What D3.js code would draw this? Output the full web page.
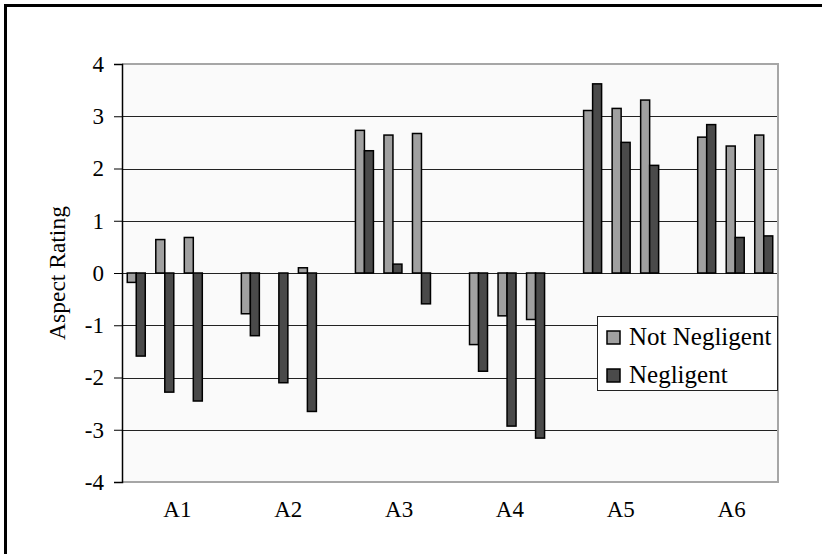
<!DOCTYPE html>
<html>
<head>
<meta charset="utf-8">
<script src="https://cdn.jsdelivr.net/npm/d3@7"></script>
<style>
  html, body { margin: 0; padding: 0; background: #ffffff; }
  svg { display: block; }
  text { font-family: "Liberation Serif", "Times New Roman", serif; fill: #000; }
</style>
</head>
<body>
<svg id="chart" width="822" height="554"></svg>
<script>
// Aspect ratings: three aspects per condition group, two series each
const categories = ["A1", "A2", "A3", "A4", "A5", "A6"];
const seriesNames = ["Not Negligent", "Negligent"];
const notNegligent = [
  [-0.18, 0.64, 0.68],
  [-0.78, 0.00, 0.10],
  [2.73, 2.64, 2.67],
  [-1.37, -0.82, -0.89],
  [3.11, 3.15, 3.31],
  [2.60, 2.43, 2.64]
];
const negligent = [
  [-1.59, -2.28, -2.45],
  [-1.20, -2.10, -2.65],
  [2.34, 0.17, -0.59],
  [-1.88, -2.93, -3.16],
  [3.62, 2.50, 2.06],
  [2.84, 0.68, 0.71]
];
const yTicks = [-4, -3, -2, -1, 0, 1, 2, 3, 4];
const yTitle = "Aspect Rating";

const colors = { "Not Negligent": "#a0a0a0", "Negligent": "#4a4a4a" };

const svg = d3.select("#chart");
const plot = { left: 122, right: 778, top: 64, bottom: 482 };

// Slots: three aspect slots per category with an empty slot between categories
const slots = [];
categories.forEach((c, i) => {
  [0, 1, 2].forEach(j => slots.push(c + "-" + j));
  if (i < categories.length - 1) slots.push("gap-" + i);
});

const xSlot = d3.scaleBand()
  .domain(slots)
  .range([plot.left, plot.right])
  .paddingInner(0.369)
  .paddingOuter(0.1845);

const xSeries = d3.scaleBand()
  .domain(seriesNames)
  .range([0, xSlot.bandwidth()]);

const y = d3.scaleLinear().domain([-4, 4]).range([plot.bottom, plot.top]);

// Category labels sit on their own band scale beneath the plot
const xLabel = d3.scaleBand().domain(categories).range([plot.left, 787]);

// Outer frame (left and top edges)
svg.append("line").attr("x1", 5.5).attr("x2", 5.5).attr("y1", 4).attr("y2", 554)
  .attr("stroke", "#000").attr("stroke-width", 3);
svg.append("line").attr("x1", 4).attr("x2", 822).attr("y1", 5.5).attr("y2", 5.5)
  .attr("stroke", "#000").attr("stroke-width", 3);

// Plot background
svg.append("rect")
  .attr("x", plot.left).attr("y", plot.top)
  .attr("width", plot.right - plot.left).attr("height", plot.bottom - plot.top)
  .attr("fill", "#fafafa");

// Horizontal gridlines
svg.append("g").selectAll("line")
  .data(yTicks.filter(t => t > -4 && t < 4))
  .join("line")
  .attr("x1", plot.left).attr("x2", plot.right)
  .attr("y1", d => Math.round(y(d)) + 0.5).attr("y2", d => Math.round(y(d)) + 0.5)
  .attr("stroke", "#222").attr("stroke-width", 1);

// Plot area border (top, right, bottom)
svg.append("path")
  .attr("d", `M${plot.left},${plot.top}H${plot.right}V${plot.bottom}H${plot.left}`)
  .attr("fill", "none").attr("stroke", "#a6a6a6").attr("stroke-width", 2);

// Bars
const rows = [];
categories.forEach((c, i) => {
  [0, 1, 2].forEach(j => {
    rows.push({ slot: c + "-" + j, series: "Not Negligent", value: notNegligent[i][j] });
    rows.push({ slot: c + "-" + j, series: "Negligent", value: negligent[i][j] });
  });
});

svg.append("g").selectAll("rect")
  .data(rows.filter(d => d.value !== 0))
  .join("rect")
  .attr("x", d => xSlot(d.slot) + xSeries(d.series))
  .attr("width", xSeries.bandwidth())
  .attr("y", d => Math.min(y(d.value), y(0)))
  .attr("height", d => Math.abs(y(d.value) - y(0)))
  .attr("fill", d => colors[d.series])
  .attr("stroke", "#000")
  .attr("stroke-width", 1.5);

// Y axis (plain hyphen minus signs)
const yAxis = svg.append("g")
  .attr("transform", `translate(${plot.left},0)`)
  .call(d3.axisLeft(y).tickValues(yTicks).tickSize(8).tickPadding(10).tickFormat(d => String(d)));
yAxis.select(".domain").attr("stroke", "#000").attr("stroke-width", 1.5);
yAxis.selectAll(".tick line").attr("stroke", "#000").attr("stroke-width", 1);
yAxis.selectAll(".tick text")
  .style("font-family", '"Liberation Serif", "Times New Roman", serif')
  .style("font-size", "23px")
  .attr("fill", "#000");

// X category labels
const xAxis = svg.append("g")
  .attr("transform", `translate(0,${plot.bottom})`)
  .call(d3.axisBottom(xLabel).tickSize(0).tickPadding(19));
xAxis.select(".domain").remove();
xAxis.selectAll(".tick text")
  .style("font-family", '"Liberation Serif", "Times New Roman", serif')
  .style("font-size", "23px")
  .attr("fill", "#000");

// Y axis title
svg.append("text")
  .attr("transform", `translate(65,${(plot.top + plot.bottom) / 2}) rotate(-90)`)
  .attr("text-anchor", "middle")
  .style("font-size", "23.5px")
  .text(yTitle);

// Legend
const legend = svg.append("g");
legend.append("rect")
  .attr("x", 597.5).attr("y", 316.5).attr("width", 180).attr("height", 74)
  .attr("fill", "#ffffff").attr("stroke", "#222").attr("stroke-width", 1);
const items = legend.selectAll("g.item").data(seriesNames).join("g")
  .attr("class", "item")
  .attr("transform", (d, i) => `translate(607,${331 + i * 38})`);
items.append("rect")
  .attr("width", 13).attr("height", 13)
  .attr("fill", d => colors[d]).attr("stroke", "#000").attr("stroke-width", 1.5);
items.append("text")
  .attr("x", 22).attr("y", 13.5)
  .style("font-size", "25px")
  .text(d => d);
</script>
</body>
</html>
